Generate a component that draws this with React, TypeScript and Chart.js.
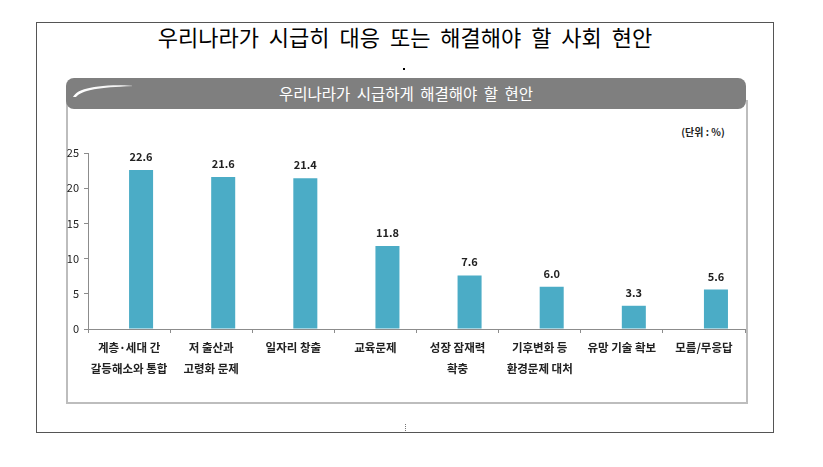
import React, { useEffect, useRef } from "react";
import { Chart, registerables } from "chart.js";

Chart.register(...registerables);

const categories: string[][] = [
  ["계층·세대 간", "갈등해소와 통합"],
  ["저 출산과", "고령화 문제"],
  ["일자리 창출"],
  ["교육문제"],
  ["성장 잠재력", "확충"],
  ["기후변화 등", "환경문제 대처"],
  ["유망 기술 확보"],
  ["모름/무응답"],
];
const values: number[] = [22.6, 21.6, 21.4, 11.8, 7.6, 6.0, 3.3, 5.6];
const spacer: (number | null)[] = [null, null, null, null, null, null, null, null];
const yMin = 0;
const yMax = 25;
const yStep = 5;

const mainTitle = "우리나라가 시급히 대응 또는 해결해야 할 사회 현안";
const panelTitle = "우리나라가 시급하게 해결해야 할 현안";
const unitLabel = "(단위 : %)";

const FONT = "'Noto Sans CJK KR', 'Noto Sans', sans-serif";

const labelPlugin = {
  id: "valueLabels",
  afterDatasetsDraw(chart: any) {
    const ctx = chart.ctx;
    const meta = chart.getDatasetMeta(1);
    ctx.save();
    ctx.font = `bold 11px ${FONT}`;
    ctx.fillStyle = "#222222";
    ctx.textAlign = "center";
    ctx.textBaseline = "alphabetic";
    meta.data.forEach((bar: any, i: number) => {
      ctx.fillText(values[i].toFixed(1), bar.x, bar.y - 9);
    });
    ctx.restore();
  },
};

export default function App() {
  const ref = useRef<HTMLCanvasElement | null>(null);

  useEffect(() => {
    if (!ref.current) return;
    const chart = new Chart(ref.current, {
      type: "bar",
      data: {
        labels: categories,
        datasets: [
          { data: spacer, backgroundColor: "rgba(0,0,0,0)" },
          {
            data: values,
            backgroundColor: "#4bacc6",
            borderWidth: 0,
          },
        ],
      },
      options: {
        animation: false,
        responsive: false,
        maintainAspectRatio: false,
        layout: { padding: { top: 43, right: 15, left: 0, bottom: 0 } },
        plugins: {
          legend: { display: false },
          tooltip: { enabled: false },
          title: { display: false },
        },
        datasets: {
          bar: { categoryPercentage: 0.585, barPercentage: 1.0 },
        },
        scales: {
          x: {
            offset: true,
            grid: {
              display: true,
              drawOnChartArea: false,
              offset: true,
              tickLength: 4,
              color: "#8c8c8c",
            },
            border: { display: true, color: "#8c8c8c", width: 1 },
            ticks: {
              color: "#222222",
              font: { family: FONT, size: 11.5, weight: "bold", lineHeight: 1.85 },
              padding: 4,
              maxRotation: 0,
              autoSkip: false,
            },
            afterFit(scale: any) {
              scale.height = 71;
            },
          },
          y: {
            min: yMin,
            max: yMax,
            ticks: {
              stepSize: yStep,
              color: "#222222",
              font: { family: FONT, size: 11 },
              padding: 5,
            },
            grid: {
              display: true,
              drawOnChartArea: false,
              tickLength: 4,
              color: "#8c8c8c",
            },
            border: { display: true, color: "#8c8c8c", width: 1 },
            afterFit(scale: any) {
              scale.width = 48;
            },
          },
        },
      },
      plugins: [labelPlugin],
    });
    return () => chart.destroy();
  }, []);

  return (
    <div
      style={{
        position: "fixed",
        left: 0,
        top: 0,
        width: 823,
        height: 467,
        background: "#ffffff",
        fontFamily: FONT,
      }}
    >
      {/* outer frame */}
      <div
        style={{
          position: "absolute",
          left: 36,
          top: 22,
          width: 736,
          height: 409,
          border: "1px solid #555555",
        }}
      />
      <div
        style={{
          position: "absolute",
          left: 36,
          width: 738,
          top: 23,
          textAlign: "center",
          fontSize: 22,
          wordSpacing: 5,
          color: "#000",
          lineHeight: "26px",
          whiteSpace: "nowrap",
        }}
      >
        {mainTitle}
      </div>
      <div
        style={{
          position: "absolute",
          left: 403,
          top: 68,
          width: 2,
          height: 2,
          background: "#000",
        }}
      />
      {/* panel */}
      <div
        style={{
          position: "absolute",
          left: 66,
          top: 100,
          width: 678,
          height: 302,
          border: "2px solid #bdbdbd",
          borderTop: "none",
        }}
      />
      <div
        style={{
          position: "absolute",
          left: 66,
          top: 78,
          width: 680,
          height: 31,
          background: "#7f7f7f",
          borderRadius: 8,
        }}
      />
      <svg
        width={70}
        height={20}
        style={{ position: "absolute", left: 70, top: 82 }}
      >
        <defs>
          <linearGradient id="sw" x1="0" x2="1" y1="0" y2="0">
            <stop offset="0" stopColor="#ffffff" stopOpacity="1" />
            <stop offset="0.8" stopColor="#ffffff" stopOpacity="0.9" />
            <stop offset="1" stopColor="#ffffff" stopOpacity="0.2" />
          </linearGradient>
        </defs>
        <path
          d="M3,15 C8,6 25,3 62,3 L62,4.5 C30,5 12,8 6,15 Z"
          fill="url(#sw)"
        />
      </svg>
      <div
        style={{
          position: "absolute",
          left: 66,
          width: 680,
          top: 83,
          textAlign: "center",
          fontSize: 15.5,
          wordSpacing: 3,
          color: "#ffffff",
          lineHeight: "21px",
          whiteSpace: "nowrap",
        }}
      >
        {panelTitle}
      </div>
      <div
        style={{
          position: "absolute",
          left: 670,
          width: 66,
          top: 124,
          textAlign: "center",
          fontSize: 10,
          fontWeight: "bold",
          color: "#222",
          lineHeight: "16px",
          whiteSpace: "nowrap",
        }}
      >
        {unitLabel}
      </div>
      <canvas
        ref={ref}
        width={720}
        height={290}
        style={{ position: "absolute", left: 40, top: 110, width: 720, height: 290 }}
      />
      <div
        style={{
          position: "absolute",
          left: 405,
          top: 424,
          height: 7,
          borderLeft: "1px dotted #777",
        }}
      />
    </div>
  );
}
